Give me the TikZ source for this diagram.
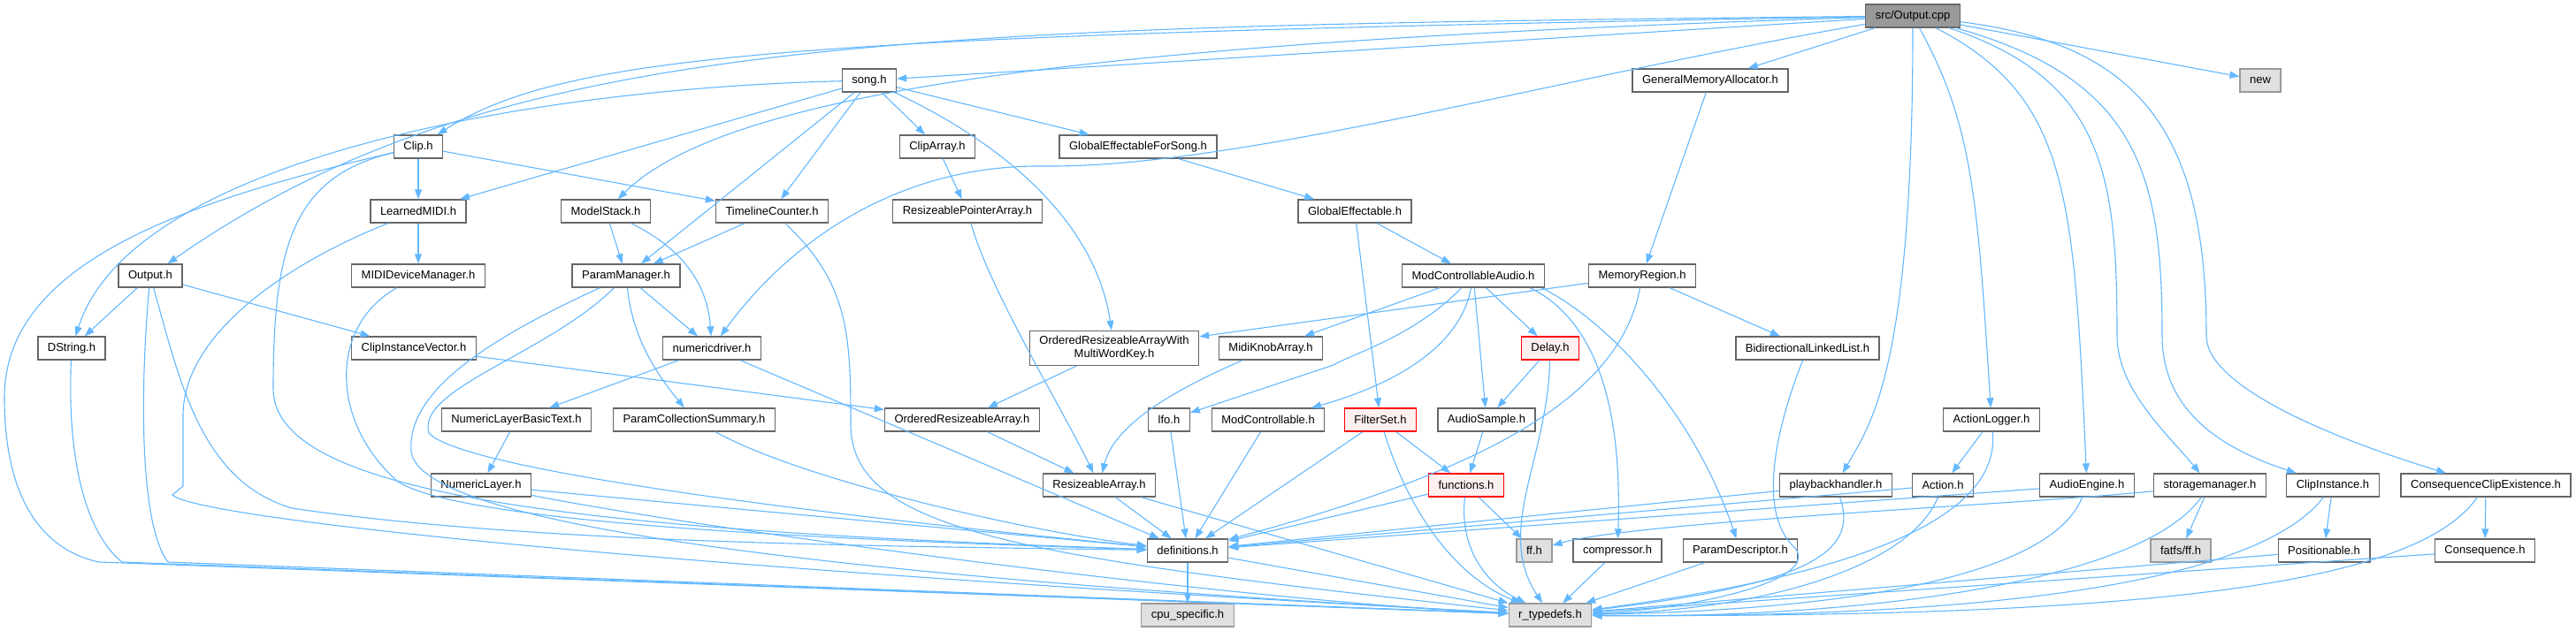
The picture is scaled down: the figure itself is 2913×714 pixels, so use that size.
\documentclass[tikz,border=0pt]{standalone}
\usepackage{fontspec}
\setmainfont{Liberation Sans}
\usetikzlibrary{arrows.meta}
\definecolor{inclcolor}{RGB}{99,184,255}
\definecolor{boxborder}{RGB}{102,102,102}
\definecolor{extfill}{RGB}{224,224,224}
\definecolor{extborder}{RGB}{153,153,153}
\definecolor{mainfill}{RGB}{153,153,153}
\definecolor{warnfill}{RGB}{255,240,240}

\begin{document}
\begin{tikzpicture}[x=1pt, y=-1pt,
    file/.style={draw=boxborder, line width=1.3pt, fill=white, minimum height=26pt, inner xsep=11pt, font=\fontsize{13}{15}\selectfont},
    ext/.style={file, draw=extborder, fill=extfill},
    warn/.style={file, draw=red, fill=warnfill},
    incl/.style={draw=inclcolor, line width=1.1pt, -{Triangle[length=11pt,width=8pt]}}]
    \fill[white] (0,0) rectangle (2913,714);
    \useasboundingbox (0,0) rectangle (2913,714);

    % Top file
    \node[file, fill=mainfill] (out) at (2163,18) {src/Output.cpp};

    % Row 1
    \node[file] (song) at (983,91) {song.h};
    \node[file] (gma) at (1934,91) {GeneralMemoryAllocator.h};
    \node[ext] (new) at (2556,91) {new};

    % Row 2
    \node[file] (clip) at (473,166) {Clip.h};
    \node[file] (cliparray) at (1060,166) {ClipArray.h};
    \node[file] (gefs) at (1287,166) {GlobalEffectableForSong.h};

    % Row 3
    \node[file] (learned) at (473,239) {LearnedMIDI.h};
    \node[file] (modelstack) at (685,239) {ModelStack.h};
    \node[file] (timeline) at (873,239) {TimelineCounter.h};
    \node[file] (rpa) at (1094,239) {ResizeablePointerArray.h};
    \node[file] (ge) at (1532,239) {GlobalEffectable.h};

    % Row 4
    \node[file] (outh) at (170,312) {Output.h};
    \node[file] (mididm) at (473,312) {MIDIDeviceManager.h};
    \node[file] (pm) at (708,312) {ParamManager.h};
    \node[file] (mca) at (1666,312) {ModControllableAudio.h};
    \node[file] (memreg) at (1857,312) {MemoryRegion.h};

    % Row 5
    \node[file] (dstring) at (81,394) {DString.h};
    \node[file] (civ) at (468,394) {ClipInstanceVector.h};
    \node[file] (numdrv) at (805,394) {numericdriver.h};
    \node[file, align=center, inner ysep=6pt] (orawm) at (1260,394) {OrderedResizeableArrayWith\\MultiWordKey.h};
    \node[file] (mka) at (1437,394) {MidiKnobArray.h};
    \node[warn] (delay) at (1753,394) {Delay.h};
    \node[file] (bll) at (2044,394) {BidirectionalLinkedList.h};

    % Row 6
    \node[file] (nlbt) at (584,475) {NumericLayerBasicText.h};
    \node[file] (pcs) at (785,475) {ParamCollectionSummary.h};
    \node[file] (ora) at (1088,475) {OrderedResizeableArray.h};
    \node[file] (lfo) at (1322,475) {lfo.h};
    \node[file] (modc) at (1434,475) {ModControllable.h};
    \node[warn] (filterset) at (1561,475) {FilterSet.h};
    \node[file] (audiosample) at (1681,475) {AudioSample.h};
    \node[file] (actionlogger) at (2252,475) {ActionLogger.h};

    % Row 7
    \node[file] (nl) at (544,549) {NumericLayer.h};
    \node[file] (ra) at (1243,549) {ResizeableArray.h};
    \node[warn] (functions) at (1658,549) {functions.h};
    \node[file] (playback) at (2076,549) {playbackhandler.h};
    \node[file] (action) at (2197,549) {Action.h};
    \node[file] (audioengine) at (2360,549) {AudioEngine.h};
    \node[file] (storage) at (2499,549) {storagemanager.h};
    \node[file] (clipinst) at (2638,549) {ClipInstance.h};
    \node[file] (cce) at (2811,549) {ConsequenceClipExistence.h};

    % Row 8
    \node[file] (defs) at (1343,623) {definitions.h};
    \node[ext] (ffh) at (1735,623) {ff.h};
    \node[file] (compressor) at (1829,623) {compressor.h};
    \node[file] (paramdesc) at (1968,623) {ParamDescriptor.h};
    \node[ext] (fatfs) at (2466,623) {fatfs/ff.h};
    \node[file] (positionable) at (2628,623) {Positionable.h};
    \node[file] (consequence) at (2810,623) {Consequence.h};

    % Row 9
    \node[ext] (cpu) at (1343,696) {cpu\_specific.h};
    \node[ext] (rtd) at (1753,696) {r\_typedefs.h};

    % From src/Output.cpp
    \draw[incl] (out) -- (song);
    \draw[incl] (out) .. controls (900,40) and (640,60) .. (clip);
    \draw[incl] (out) .. controls (1000,30) and (560,40) .. (outh);
    \draw[incl] (out) .. controls (1300,45) and (830,95) .. (modelstack);
    \draw[incl] (out) .. controls (1750,90) and (1400,190) .. (1180,188) .. controls (1000,186) and (880,290) .. (numdrv);
    \draw[incl] (out) -- (gma);
    \draw[incl] (out) -- (new);
    \draw[incl] (out) .. controls (2163,420) and (2115,480) .. (playback);
    \draw[incl] (out) .. controls (2230,140) and (2236,220) .. (actionlogger);
    \draw[incl] (out) .. controls (2340,110) and (2345,220) .. (audioengine);
    \draw[incl] (out) .. controls (2380,90) and (2394,200) .. (2394,380) .. controls (2394,440) and (2450,490) .. (storage);
    \draw[incl] (out) .. controls (2420,90) and (2445,200) .. (2445,380) .. controls (2445,470) and (2520,510) .. (clipinst);
    \draw[incl] (out) .. controls (2420,50) and (2495,150) .. (2495,380) .. controls (2495,440) and (2650,500) .. (cce);

    % song.h
    \draw[incl] (song) .. controls (600,100) and (150,180) .. (dstring);
    \draw[incl] (song) -- (learned);
    \draw[incl] (song) -- (pm);
    \draw[incl] (song) -- (timeline);
    \draw[incl] (song) -- (cliparray);
    \draw[incl] (song) -- (gefs);
    \draw[incl] (song) .. controls (1150,170) and (1240,260) .. (orawm);

    % Clip.h
    \draw[incl] (clip) -- (learned);
    \draw[incl] (clip) -- (timeline);
    \draw[incl] (clip) .. controls (330,200) and (309,280) .. (309,440) .. controls (309,560) and (650,600) .. (defs);
    \draw[incl] (clip) .. controls (200,230) and (5,300) .. (5,450) .. controls (5,580) and (60,625) .. (112,636) -- (rtd);

    % Output.h, DString.h
    \draw[incl] (outh) -- (dstring);
    \draw[incl] (outh) -- (civ);
    \draw[incl] (outh) .. controls (160,420) and (155,590) .. (190,636) -- (rtd);
    \draw[incl] (outh) .. controls (205,440) and (230,545) .. (330,575) .. controls (600,615) and (1000,618) .. (defs);
    \draw[incl] (dstring) .. controls (75,540) and (105,610) .. (138,636) -- (rtd);

    % LearnedMIDI.h, MIDIDeviceManager.h
    \draw[incl] (learned) -- (mididm);
    \draw[incl] (learned) .. controls (320,300) and (207,380) .. (207,470) -- (207,550) -- (195,560) .. controls (220,585) and (700,640) .. (rtd);
    \draw[incl] (mididm) .. controls (370,370) and (375,480) .. (450,545) .. controls (520,590) and (900,610) .. (defs);

    % ModelStack.h, TimelineCounter.h, ParamManager.h
    \draw[incl] (modelstack) -- (pm);
    \draw[incl] (modelstack) .. controls (770,280) and (800,320) .. (numdrv);
    \draw[incl] (timeline) -- (pm);
    \draw[incl] (timeline) .. controls (960,320) and (962,380) .. (962,480) .. controls (962,600) and (1150,630) .. (rtd);
    \draw[incl] (pm) -- (numdrv);
    \draw[incl] (pm) .. controls (715,380) and (740,420) .. (pcs);
    \draw[incl] (pm) .. controls (620,400) and (470,440) .. (485,490) .. controls (520,530) and (900,580) .. (defs);
    \draw[incl] (pm) .. controls (560,380) and (460,440) .. (465,510) .. controls (470,590) and (900,650) .. (rtd);

    % numericdriver.h and below
    \draw[incl] (civ) -- (ora);
    \draw[incl] (numdrv) -- (nlbt);
    \draw[incl] (numdrv) -- (defs);
    \draw[incl] (nlbt) -- (nl);
    \draw[incl] (nl) -- (defs);
    \draw[incl] (nl) .. controls (800,600) and (1400,680) .. (rtd);
    \draw[incl] (pcs) .. controls (900,540) and (1150,600) .. (defs);

    % Arrays and effectables
    \draw[incl] (cliparray) -- (rpa);
    \draw[incl] (rpa) .. controls (1120,330) and (1200,460) .. (ra);
    \draw[incl] (gefs) -- (ge);
    \draw[incl] (ge) -- (mca);
    \draw[incl] (ge) -- (filterset);
    \draw[incl] (gma) -- (memreg);
    \draw[incl] (memreg) -- (orawm);
    \draw[incl] (memreg) -- (bll);
    \draw[incl] (memreg) .. controls (1830,460) and (1650,540) .. (defs);
    \draw[incl] (orawm) -- (ora);
    \draw[incl] (ora) -- (ra);
    \draw[incl] (mka) .. controls (1330,440) and (1260,480) .. (ra);
    \draw[incl] (ra) -- (defs);
    \draw[incl] (ra) -- (rtd);

    % ModControllableAudio.h
    \draw[incl] (mca) -- (mka);
    \draw[incl] (mca) .. controls (1600,380) and (1530,400) .. (1508,413) -- (lfo);
    \draw[incl] (mca) .. controls (1650,400) and (1560,440) .. (modc);
    \draw[incl] (mca) -- (audiosample);
    \draw[incl] (mca) -- (delay);
    \draw[incl] (mca.-12) .. controls (1800,360) and (1835,450) .. (compressor);
    \draw[incl] (mca.-10) .. controls (1830,370) and (1920,480) .. (paramdesc);
    \draw[incl] (delay) -- (audiosample);
    \draw[incl] (delay) .. controls (1750,520) and (1690,600) .. (rtd);
    \draw[incl] (lfo) -- (defs);
    \draw[incl] (modc) -- (defs);
    \draw[incl] (filterset) -- (defs);
    \draw[incl] (filterset) -- (functions);
    \draw[incl] (filterset) .. controls (1590,570) and (1640,650) .. (rtd);
    \draw[incl] (audiosample) -- (functions);
    \draw[incl] (functions) -- (defs);
    \draw[incl] (functions) -- (ffh);
    \draw[incl] (functions) .. controls (1650,620) and (1680,660) .. (rtd);
    \draw[incl] (compressor) -- (rtd);
    \draw[incl] (paramdesc) -- (rtd);
    \draw[incl] (defs) -- (cpu);
    \draw[incl] (defs) -- (rtd);
    \draw[incl] (bll) .. controls (2010,480) and (1985,580) .. (2030,620) .. controls (2060,660) and (1900,690) .. (rtd);

    % Right side
    \draw[incl] (playback) -- (defs);
    \draw[incl] (playback) .. controls (2100,620) and (2060,660) .. (rtd);
    \draw[incl] (actionlogger) -- (action);
    \draw[incl] (actionlogger) .. controls (2260,560) and (2180,640) .. (rtd);
    \draw[incl] (action) -- (defs);
    \draw[incl] (action) .. controls (2160,640) and (2000,690) .. (rtd);
    \draw[incl] (audioengine) -- (defs);
    \draw[incl] (audioengine) .. controls (2320,650) and (2100,690) .. (rtd);
    \draw[incl] (storage) .. controls (2300,570) and (1850,590) .. (ffh);
    \draw[incl] (storage) -- (fatfs);
    \draw[incl] (storage) .. controls (2420,660) and (2100,700) .. (rtd);
    \draw[incl] (clipinst) -- (positionable);
    \draw[incl] (clipinst) .. controls (2560,650) and (2300,700) .. (rtd);
    \draw[incl] (positionable) -- (rtd);
    \draw[incl] (cce) -- (consequence);
    \draw[incl] (cce) .. controls (2740,650) and (2500,700) .. (rtd);
    \draw[incl] (consequence) -- (rtd);
\end{tikzpicture}
\end{document}
